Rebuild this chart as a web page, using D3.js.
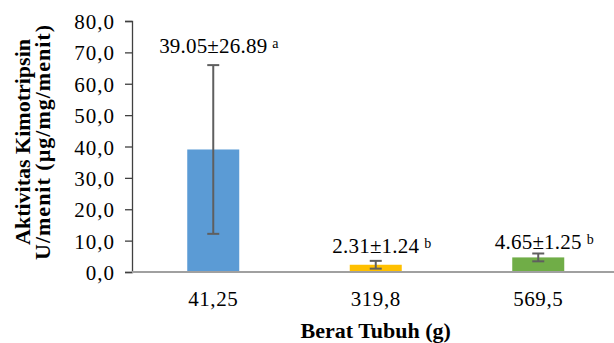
<!DOCTYPE html>
<html>
<head>
<meta charset="utf-8">
<script src="https://cdn.jsdelivr.net/npm/d3@7"></script>
<style>
  html, body { margin: 0; padding: 0; background: #ffffff; }
  svg { display: block; }
  text { font-family: "Liberation Serif", "Times New Roman", serif; fill: #000; }
</style>
</head>
<body>
<svg id="chart" width="614" height="343"></svg>
<script>
// Body weight groups (g) and chymotrypsin activity (mean ± SD)
const categories = ["41,25", "319,8", "569,5"];
const means = [39.05, 2.31, 4.65];
const sds = [26.89, 1.24, 1.25];
const letters = ["a", "b", "b"];
const colors = ["#5b9bd5", "#ffc000", "#70ad47"];
const yTicks = [0, 10, 20, 30, 40, 50, 60, 70, 80];

const svg = d3.select("#chart");
const fmtTick = v => d3.format(".1f")(v).replace(".", ",");

const x = d3.scaleBand().domain(categories).range([132, 619.5]).padding(0);
const y = d3.scaleLinear().domain([0, 80]).range([272, 21]);
const barW = x.bandwidth() * 0.32;

// bars
svg.append("g").selectAll("rect")
  .data(categories)
  .join("rect")
  .attr("x", (d) => x(d) + x.bandwidth() / 2 - barW / 2)
  .attr("width", barW)
  .attr("y", (d, i) => y(means[i]))
  .attr("height", (d, i) => y(0) - y(means[i]))
  .attr("fill", (d, i) => colors[i]);

// error bars
const eb = svg.append("g").attr("stroke", "#5f5f5f").attr("stroke-width", 2);
categories.forEach((c, i) => {
  const cx = x(c) + x.bandwidth() / 2;
  const lo = y(means[i] - sds[i]), hi = y(means[i] + sds[i]);
  eb.append("line").attr("x1", cx).attr("x2", cx).attr("y1", lo).attr("y2", hi);
  eb.append("line").attr("x1", cx - 6).attr("x2", cx + 6).attr("y1", lo).attr("y2", lo);
  eb.append("line").attr("x1", cx - 6).attr("x2", cx + 6).attr("y1", hi).attr("y2", hi);
});

// y axis
const yAxis = svg.append("g")
  .attr("transform", "translate(132,0)")
  .call(d3.axisLeft(y).tickValues(yTicks).tickFormat(fmtTick).tickSize(7).tickPadding(10));
yAxis.select(".domain").attr("stroke", "#404040").attr("stroke-width", 1.3);
yAxis.selectAll(".tick line").attr("stroke", "#404040").attr("stroke-width", 1.3);
yAxis.selectAll(".tick text")
  .style("font-family", "Liberation Serif, serif")
  .attr("font-size", 21).attr("letter-spacing", 1).attr("dy", "0.36em").attr("fill", "#000");

// x axis baseline
svg.append("line")
  .attr("x1", 132).attr("x2", 619.5)
  .attr("y1", y(0)).attr("y2", y(0))
  .attr("stroke", "#a0a0a0").attr("stroke-width", 2);

// category labels
svg.append("g").selectAll("text")
  .data(categories)
  .join("text")
  .attr("x", d => x(d) + x.bandwidth() / 2)
  .attr("y", 306)
  .attr("text-anchor", "middle")
  .attr("font-size", 21)
  .attr("letter-spacing", 0.6)
  .text(d => d);

// value labels with significance letters
const nudge = [-12, -8, -4];
categories.forEach((c, i) => {
  const cx = x(c) + x.bandwidth() / 2;
  const by = y(means[i] + sds[i]) + nudge[i];
  const main = svg.append("text")
    .attr("x", cx).attr("y", by)
    .attr("text-anchor", "middle")
    .attr("font-size", 21)
    .attr("letter-spacing", 0.2)
    .text(means[i].toFixed(2) + "±" + sds[i].toFixed(2));
  const w = main.node().getComputedTextLength();
  svg.append("text")
    .attr("x", cx + w / 2 + 5).attr("y", by - 5)
    .attr("font-size", 14)
    .text(letters[i]);
});

// axis titles
svg.append("text")
  .attr("x", 375.75).attr("y", 338)
  .attr("text-anchor", "middle")
  .attr("font-size", 22).attr("font-weight", "bold")
  .text("Berat Tubuh (g)");

const yt = svg.append("text")
  .attr("transform", "translate(30,142) rotate(-90)")
  .attr("text-anchor", "middle")
  .attr("font-size", 22).attr("font-weight", "bold");
yt.append("tspan").attr("x", 0).attr("y", 0).text("Aktivitas Kimotripsin");
yt.append("tspan").attr("x", 0).attr("y", 20).attr("letter-spacing", 1).text("U/menit (µg/mg/menit)");
</script>
</body>
</html>
